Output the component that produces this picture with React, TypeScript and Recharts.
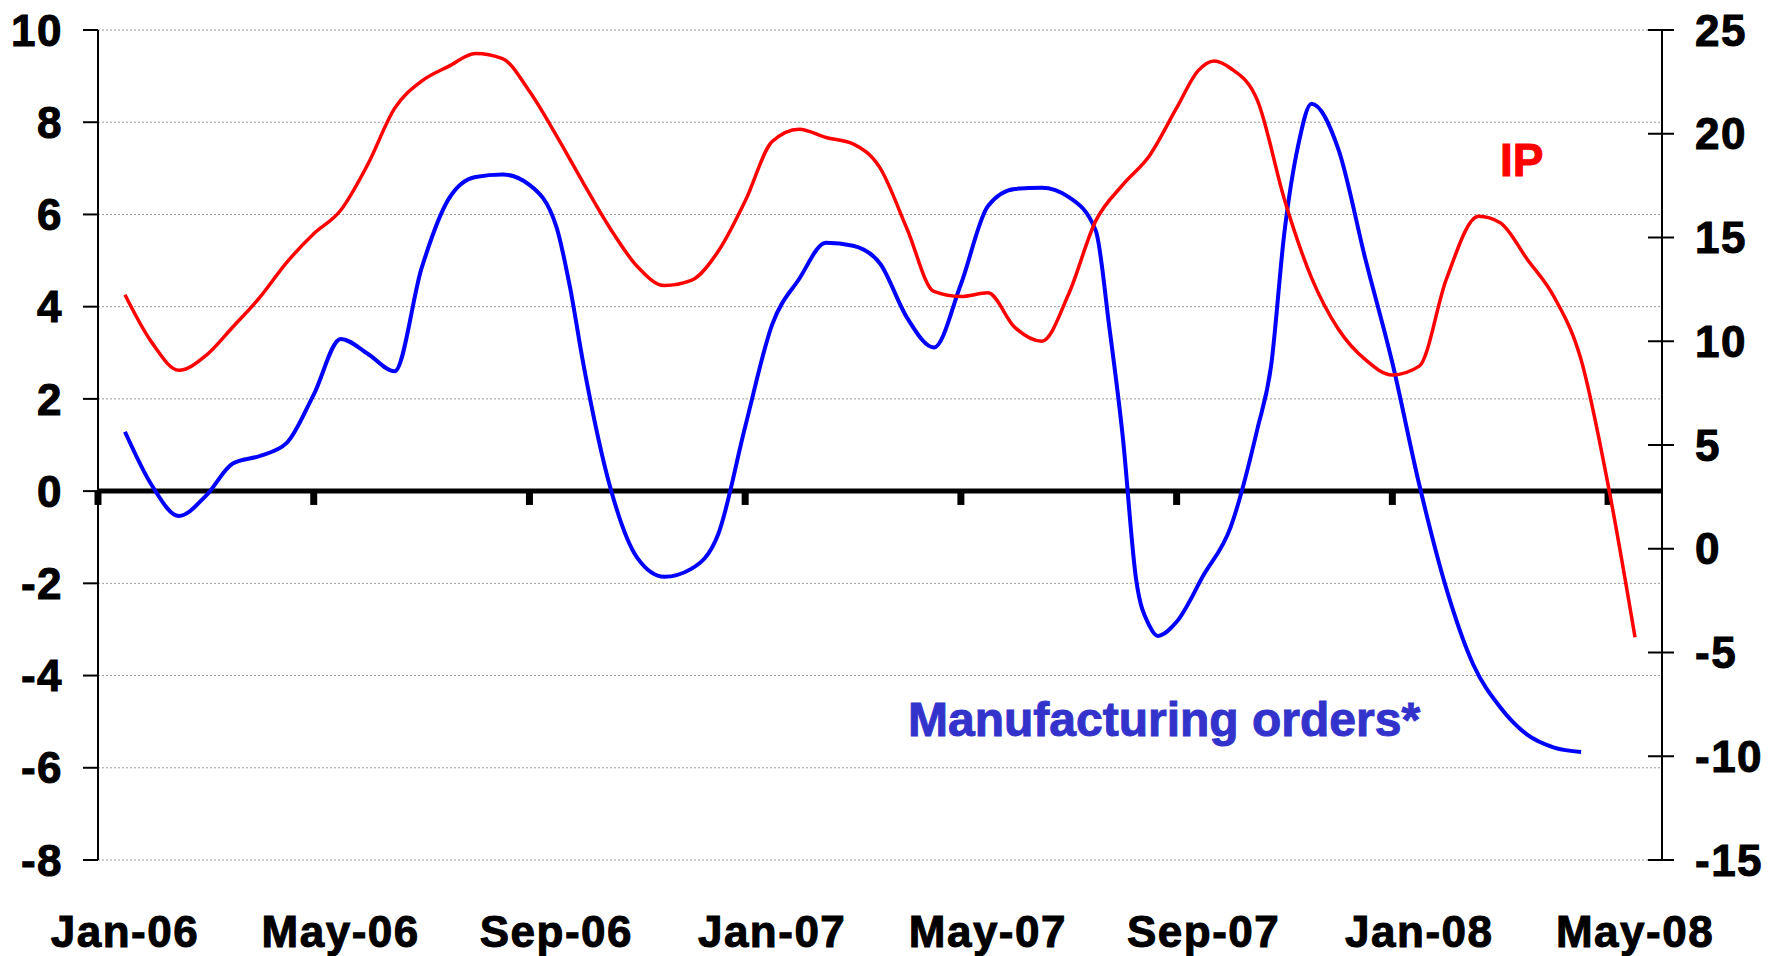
import { CartesianGrid, Line, LineChart, ReferenceLine, XAxis, YAxis } from 'recharts';

// x positions are months since the start of Jan-06 (x.5 = middle of the month)
const tickLabels = ['Jan-06', 'May-06', 'Sep-06', 'Jan-07', 'May-07', 'Sep-07', 'Jan-08', 'May-08'];
const monthsPerTick = 4;
const monthSpan = 29;

const leftTicks = [-8, -6, -4, -2, 0, 2, 4, 6, 8, 10];
const rightTicks = [-15, -10, -5, 0, 5, 10, 15, 20, 25];

// IP, % (left axis)
const ipMonths = [
  0.5, 1, 1.5, 2, 2.5, 3, 3.5, 4, 4.5, 5, 5.5, 6, 6.5, 7, 7.5, 8, 8.5, 9, 9.5, 10,
  10.5, 11, 11.5, 12, 12.5, 13, 13.5, 14, 14.5, 15, 15.5, 16, 16.5, 17, 17.5, 18, 18.5, 19, 19.5, 20,
  20.4, 20.7, 21, 21.5, 22, 22.5, 23, 23.5, 24, 24.5, 25, 25.6, 26, 26.5, 27, 27.5, 28, 28.5,
];
const ipValues = [
  4.26, 3.22, 2.62, 2.94, 3.56, 4.2, 4.96, 5.58, 6.09, 7.08, 8.3, 8.89, 9.21, 9.49, 9.38, 8.67, 7.71, 6.68, 5.69, 4.87,
  4.46, 4.57, 5.2, 6.29, 7.58, 7.85, 7.67, 7.53, 7.01, 5.69, 4.33, 4.22, 4.3, 3.55, 3.25, 4.28, 5.86, 6.64, 7.28, 8.31,
  9.12, 9.33, 9.17, 8.47, 6.32, 4.63, 3.51, 2.85, 2.52, 2.71, 4.59, 5.96, 5.82, 5.03, 4.21, 2.85, 0.14, -3.17,
];

// Manufacturing orders*, % (right axis)
const ordersMonths = [
  0.5, 1, 1.5, 2, 2.5, 3, 3.5, 4, 4.5, 5, 5.5, 6, 6.5, 7, 7.5, 8, 8.5, 8.75, 9, 9.5,
  10, 10.5, 11, 11.5, 12, 12.5, 13, 13.5, 14, 14.5, 15, 15.5, 16, 16.5, 17, 17.5, 18, 18.5, 18.75, 19,
  19.25, 19.5, 19.65, 20, 20.5, 21, 21.5, 21.75, 22, 22.25, 22.5, 23, 23.5, 24, 24.5, 25, 25.5, 26, 26.5, 27,
  27.5,
];
const ordersValues = [
  5.64, 3.05, 1.58, 2.55, 4.11, 4.47, 5.1, 7.43, 10.11, 9.4, 8.55, 13.52, 16.85, 17.92, 18.04, 17.54, 15.51, 12.63, 8.9, 2.94,
  -0.44, -1.35, -0.97, 0.7, 5.88, 10.8, 13.0, 14.75, 14.6, 13.75, 11.14, 9.7, 12.75, 16.51, 17.34, 17.4, 16.95, 15.34, 10.72, 5.43,
  -1.5, -3.73, -4.2, -3.52, -1.27, 1.03, 5.8, 8.78, 15.28, 19.39, 21.45, 19.25, 13.96, 8.96, 3.08, -1.91, -5.58, -7.64, -8.96, -9.58,
  -9.79,
];

const ipData = ipMonths.map((t, i) => ({ t, v: ipValues[i] }));
const ordersData = ordersMonths.map((t, i) => ({ t, v: ordersValues[i] }));

const FONT = '"Liberation Sans", Arial, sans-serif';
const TICK_STYLE = {
  fill: '#000',
  stroke: '#000',
  strokeWidth: 1,
  fontSize: 44,
  fontWeight: 700,
  fontFamily: FONT,
  letterSpacing: 1.5,
};

function RightTick({ x, y, payload }: any) {
  return (
    <g>
      <line x1={x - 14} x2={x + 12} y1={y} y2={y} stroke="#000" strokeWidth={2} />
      <text x={x + 33} y={y} dy="0.355em" textAnchor="start" {...TICK_STYLE}>
        {payload.value}
      </text>
    </g>
  );
}

export default function App() {
  const labelTicks = tickLabels.map((_, i) => i * monthsPerTick + 0.5);
  const markTicks = tickLabels.map((_, i) => i * monthsPerTick);

  return (
    <div style={{ position: 'absolute', left: 0, top: 0, width: 1768, height: 956, background: '#fff' }}>
      <LineChart width={1768} height={956} margin={{ top: 30, right: 0, bottom: 0, left: 0 }}>
        <CartesianGrid yAxisId="left" vertical={false} stroke="#999" strokeDasharray="2 2" />
        <XAxis
          dataKey="t"
          type="number"
          domain={[0, monthSpan]}
          ticks={labelTicks}
          interval={0}
          tickFormatter={(v: number) => tickLabels[Math.round((v - 0.5) / monthsPerTick)]}
          axisLine={false}
          tickLine={false}
          tickSize={0}
          tickMargin={56}
          height={96}
          tick={TICK_STYLE}
        />
        <YAxis
          yAxisId="left"
          domain={[-8, 10]}
          ticks={leftTicks}
          interval={0}
          width={98}
          axisLine={{ stroke: '#000', strokeWidth: 2 }}
          tickLine={{ stroke: '#000', strokeWidth: 2 }}
          tickSize={15}
          tickMargin={20}
          tick={TICK_STYLE}
        />
        <YAxis
          yAxisId="right"
          orientation="right"
          domain={[-15, 25]}
          ticks={rightTicks}
          interval={0}
          width={106}
          axisLine={{ stroke: '#000', strokeWidth: 2 }}
          tickLine={false}
          tickSize={0}
          tickMargin={0}
          tick={<RightTick />}
        />
        <ReferenceLine yAxisId="left" y={0} stroke="#000" strokeWidth={5} />
        {markTicks.map((t) => (
          <ReferenceLine
            key={t}
            yAxisId="left"
            segment={[
              { x: t, y: 0 },
              { x: t, y: -0.3 },
            ]}
            stroke="#000"
            strokeWidth={7}
          />
        ))}
        <Line
          yAxisId="right"
          data={ordersData}
          dataKey="v"
          type="monotone"
          stroke="#0000FF"
          strokeWidth={4}
          dot={false}
          activeDot={false}
          isAnimationActive={false}
        />
        <Line
          yAxisId="left"
          data={ipData}
          dataKey="v"
          type="monotone"
          stroke="#FF0000"
          strokeWidth={3.5}
          dot={false}
          activeDot={false}
          isAnimationActive={false}
        />
      </LineChart>
      <div
        style={{
          position: 'absolute', left: 1500, top: 137, fontFamily: FONT, fontWeight: 700,
          fontSize: 46, lineHeight: 1, color: '#FF0000', WebkitTextStroke: '1px #FF0000',
        }}
      >
        IP
      </div>
      <div
        style={{
          position: 'absolute', left: 908, top: 696, fontFamily: FONT, fontWeight: 700,
          fontSize: 48, lineHeight: 1, color: '#3333CC', whiteSpace: 'nowrap',
          WebkitTextStroke: '1px #3333CC',
        }}
      >
        Manufacturing orders*
      </div>
    </div>
  );
}
